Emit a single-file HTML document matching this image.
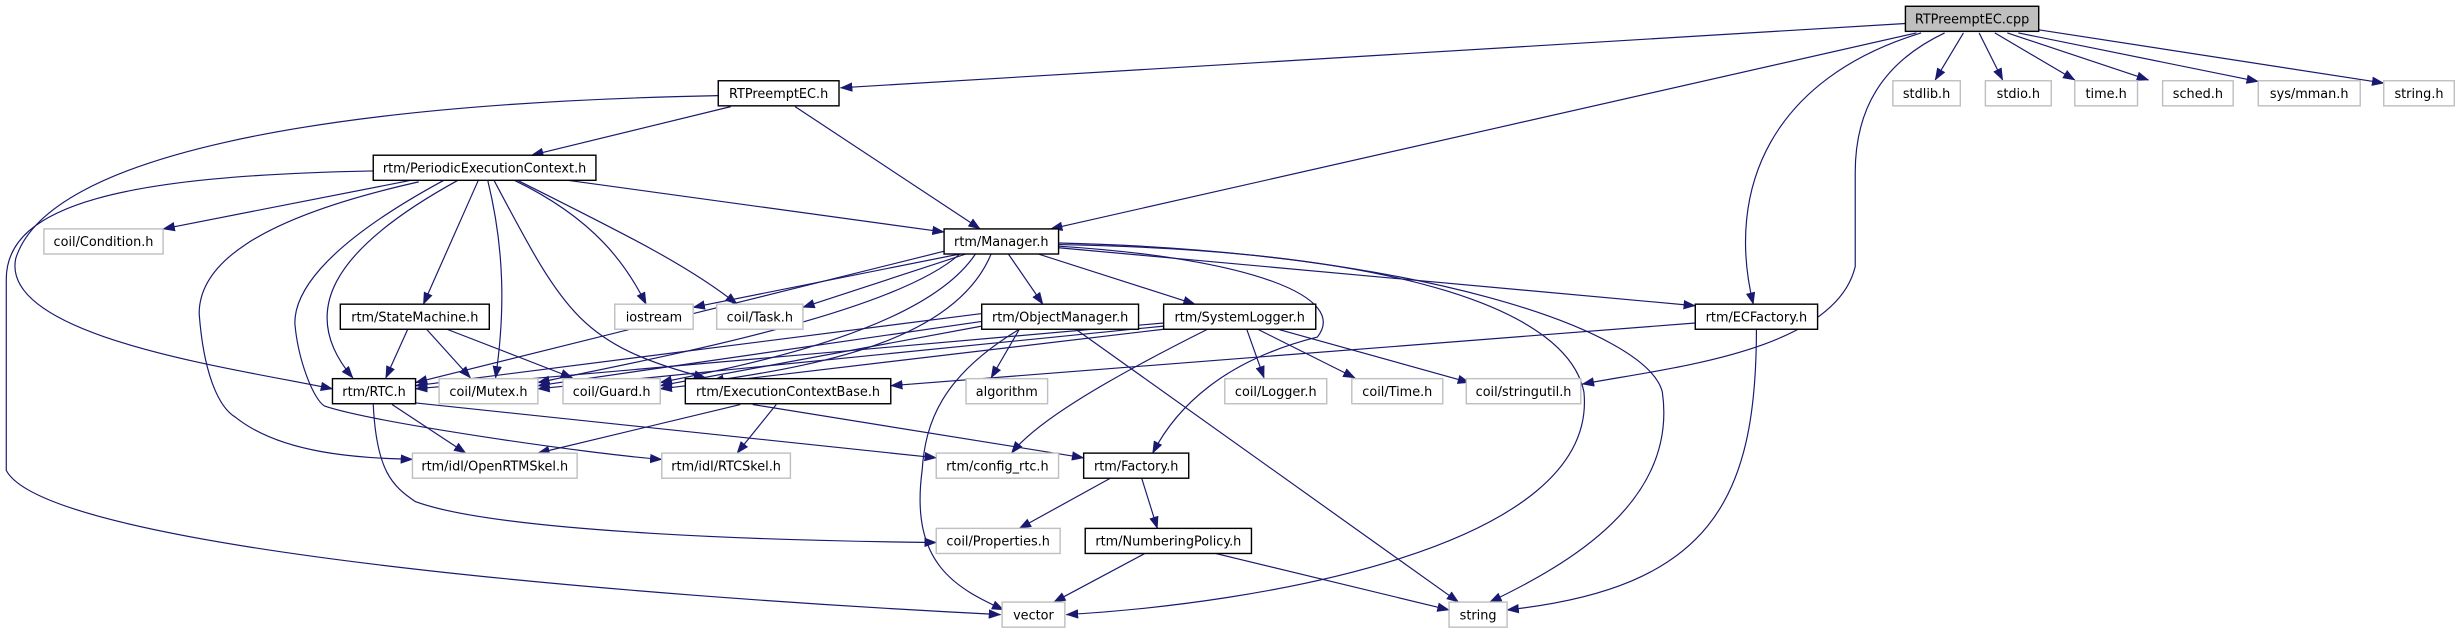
<!DOCTYPE html>
<html><head><meta charset="utf-8"><style>
html,body{margin:0;padding:0;background:#fff;}
svg{display:block;}
text{font-family:"DejaVu Sans","Liberation Sans",sans-serif;font-size:8.2px;text-anchor:middle;fill:#000;}
.b{fill:#fff;stroke:#000;stroke-width:0.9;}
.g{fill:#fff;stroke:#bfbfbf;stroke-width:0.9;}
.e{fill:none;stroke:#191970;stroke-width:0.75;}
</style></head><body>
<svg width="2459" height="635" viewBox="0 0 1568 405" preserveAspectRatio="none" xmlns="http://www.w3.org/2000/svg">
<defs><marker id="a" markerWidth="8" markerHeight="6" refX="7.5" refY="3" orient="auto" markerUnits="userSpaceOnUse"><polygon points="0,0 8,3 0,6" fill="#191970"/></marker></defs>
<g class="e" marker-end="url(#a)">
<path d="M1215,15 L536,56"/>
<path d="M1222,21 L670,146"/>
<path d="M1225,21 C1130,50 1100,120 1118,194"/>
<path d="M1240,21 C1200,40 1183,70 1183,110 L1183,170 C1170,225 1060,235 1009,245"/>
<path d="M1252,21 L1234,51"/>
<path d="M1262,21 L1277,51"/>
<path d="M1272,21 L1323,51"/>
<path d="M1280,21 L1370,51"/>
<path d="M1287,21 L1440,52"/>
<path d="M1300,19 L1520,53"/>
<path d="M466,68 L339,99"/>
<path d="M507,68 L625,146"/>
<path d="M458,61 C200,66 30,100 10,165 C0,215 150,235 212,248"/>
<path d="M238,109 C80,112 4,130 4,178 L4,300 C30,350 400,380 638,392"/>
<path d="M262,115 L104,146"/>
<path d="M292,115 C210,160 190,200 225,241"/>
<path d="M305,115 L270,194"/>
<path d="M311,115 C322,160 322,200 316,241"/>
<path d="M315,115 C360,200 370,220 450,241"/>
<path d="M328,115 C380,140 400,170 412,194"/>
<path d="M330,115 C400,150 440,170 470,194"/>
<path d="M362,115 L602,148"/>
<path d="M267,116 C160,140 127,170 127,200 C130,240 140,260 150,266 C180,290 230,292 263,293"/>
<path d="M283,115 C200,160 188,190 188,206 C190,230 200,255 207,259 C240,270 380,290 422,293"/>
<path d="M612,162 L442,196"/>
<path d="M616,162 L512,196"/>
<path d="M603,160 L265,244"/>
<path d="M612,162 C570,200 420,228 343,244"/>
<path d="M622,162 C590,210 480,232 421,244"/>
<path d="M632,162 C610,215 530,232 454,243"/>
<path d="M643,162 L665,194"/>
<path d="M662,162 L762,194"/>
<path d="M675,158 L1081,195"/>
<path d="M675,157 C800,165 860,190 840,215 C780,230 750,260 735,289"/>
<path d="M675,156 C900,160 1000,200 1010,250 C1020,350 800,385 680,392"/>
<path d="M675,155 C900,160 1050,210 1060,250 C1070,320 1000,360 950,384"/>
<path d="M260,210 L246,241"/>
<path d="M272,210 L300,241"/>
<path d="M285,210 L365,241"/>
<path d="M626,200 L265,246"/>
<path d="M626,205 L343,246"/>
<path d="M626,208 L421,246"/>
<path d="M650,210 L632,241"/>
<path d="M650,210 C600,240 590,270 588,300 C580,360 610,375 640,389"/>
<path d="M686,210 L930,384"/>
<path d="M742,206 L265,248"/>
<path d="M742,208 L343,248"/>
<path d="M742,210 L421,248"/>
<path d="M795,210 L806,241"/>
<path d="M802,210 L864,241"/>
<path d="M815,210 L937,244"/>
<path d="M770,210 C700,245 660,270 645,289"/>
<path d="M1081,206 L568,246"/>
<path d="M1120,210 C1120,320 1090,375 961,389"/>
<path d="M250,258 L297,289"/>
<path d="M265,257 L597,292"/>
<path d="M238,258 C240,300 250,310 265,320 C320,340 500,345 597,346"/>
<path d="M472,258 L343,289"/>
<path d="M495,258 L470,289"/>
<path d="M480,258 L691,292"/>
<path d="M708,305 L650,337"/>
<path d="M728,305 L738,337"/>
<path d="M730,353 L672,384"/>
<path d="M775,353 L924,389"/>
</g>
<rect x="1215" y="4" width="85" height="16" fill="#bfbfbf" stroke="#000" stroke-width="0.9"/><text x="1257.5" y="15">RTPreemptEC.cpp</text>
<rect class="b" x="458" y="51.5" width="77" height="16"/><text x="496.5" y="62.5">RTPreemptEC.h</text>
<rect class="g" x="1207" y="51.5" width="43" height="16"/><text x="1228.5" y="62.5">stdlib.h</text>
<rect class="g" x="1266" y="51.5" width="42" height="16"/><text x="1287" y="62.5">stdio.h</text>
<rect class="g" x="1323" y="51.5" width="40" height="16"/><text x="1343" y="62.5">time.h</text>
<rect class="g" x="1379" y="51.5" width="45" height="16"/><text x="1401.5" y="62.5">sched.h</text>
<rect class="g" x="1440" y="51.5" width="65" height="16"/><text x="1472.5" y="62.5">sys/mman.h</text>
<rect class="g" x="1520" y="51.5" width="45" height="16"/><text x="1542.5" y="62.5">string.h</text>
<rect class="b" x="238" y="99" width="142" height="16"/><text x="309" y="110">rtm/PeriodicExecutionContext.h</text>
<rect class="g" x="28" y="146" width="76" height="16"/><text x="66" y="157">coil/Condition.h</text>
<rect class="b" x="602" y="146" width="73" height="16"/><text x="638.5" y="157">rtm/Manager.h</text>
<rect class="b" x="217" y="194" width="95" height="16"/><text x="264.5" y="205">rtm/StateMachine.h</text>
<rect class="g" x="392" y="194" width="50" height="16"/><text x="417" y="205">iostream</text>
<rect class="g" x="457" y="194" width="55" height="16"/><text x="484.5" y="205">coil/Task.h</text>
<rect class="b" x="626" y="194" width="100" height="16"/><text x="676" y="205">rtm/ObjectManager.h</text>
<rect class="b" x="742" y="194" width="97" height="16"/><text x="790.5" y="205">rtm/SystemLogger.h</text>
<rect class="b" x="1081" y="194" width="78" height="16"/><text x="1120" y="205">rtm/ECFactory.h</text>
<rect class="b" x="212" y="241.5" width="53" height="16"/><text x="238.5" y="252.5">rtm/RTC.h</text>
<rect class="g" x="280" y="241.5" width="63" height="16"/><text x="311.5" y="252.5">coil/Mutex.h</text>
<rect class="g" x="359" y="241.5" width="62" height="16"/><text x="390" y="252.5">coil/Guard.h</text>
<rect class="b" x="437" y="241.5" width="131" height="16"/><text x="502.5" y="252.5">rtm/ExecutionContextBase.h</text>
<rect class="g" x="616" y="241.5" width="52" height="16"/><text x="642" y="252.5">algorithm</text>
<rect class="g" x="781" y="241.5" width="65" height="16"/><text x="813.5" y="252.5">coil/Logger.h</text>
<rect class="g" x="862" y="241.5" width="58" height="16"/><text x="891" y="252.5">coil/Time.h</text>
<rect class="g" x="935" y="241.5" width="73" height="16"/><text x="971.5" y="252.5">coil/stringutil.h</text>
<rect class="g" x="263" y="289" width="105" height="16"/><text x="315.5" y="300">rtm/idl/OpenRTMSkel.h</text>
<rect class="g" x="422" y="289" width="82" height="16"/><text x="463" y="300">rtm/idl/RTCSkel.h</text>
<rect class="g" x="597" y="289" width="78" height="16"/><text x="636" y="300">rtm/config_rtc.h</text>
<rect class="b" x="691" y="289" width="67" height="16"/><text x="724.5" y="300">rtm/Factory.h</text>
<rect class="g" x="597" y="337" width="79" height="16"/><text x="636.5" y="348">coil/Properties.h</text>
<rect class="b" x="692" y="337" width="106" height="16"/><text x="745" y="348">rtm/NumberingPolicy.h</text>
<rect class="g" x="639" y="384" width="40" height="16"/><text x="659" y="395">vector</text>
<rect class="g" x="924" y="384" width="37" height="16"/><text x="942.5" y="395">string</text>
</svg>
</body></html>
